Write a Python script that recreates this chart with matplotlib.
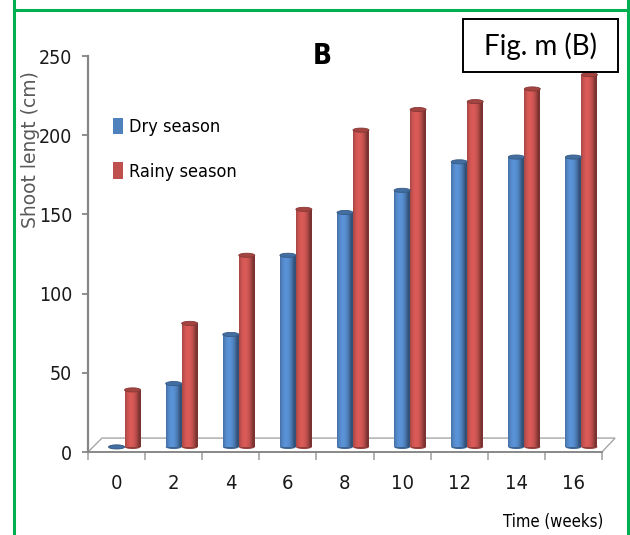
import numpy as np
import matplotlib.pyplot as plt
from matplotlib import font_manager
from matplotlib.patches import Rectangle, Ellipse, Polygon
from matplotlib.lines import Line2D
from matplotlib.ticker import FixedLocator

# data
weeks = ["0", "2", "4", "6", "8", "10", "12", "14", "16"]
dry_season = [0, 40, 71, 121, 148, 162, 180, 183, 183]
rainy_season = [36, 78, 121, 150, 200, 213, 218, 226, 235]
series_names = ["Dry season", "Rainy season"]
y_ticks = [0, 50, 100, 150, 200, 250]

W, H = 630, 535
fig = plt.figure(figsize=(W / 100, H / 100), dpi=100)
fig.patch.set_facecolor("white")


# look for a condensed face (the chart text is Calibri squeezed sideways)
def pick_narrow(bold=False):
    best = None
    for f in font_manager.fontManager.ttflist:
        if f.stretch in ("condensed", "semi-condensed", "extra-condensed") \
                and f.style == "normal":
            isbold = f.weight in ("bold", 700, "heavy", 800, "semibold", 600)
            if bold != bool(isbold):
                continue
            score = 0 if "Liberation" in f.name else 1 if "DejaVu" in f.name else 2
            if best is None or score < best[0]:
                best = (score, f.fname)
    return best[1] if best else None


fn_reg = pick_narrow(False)
fn_bold = pick_narrow(True)


def nprop(size, bold=False):
    fname = fn_bold if bold else fn_reg
    if fname:
        return font_manager.FontProperties(fname=fname, size=size)
    return font_manager.FontProperties(family="Roboto", size=size,
                                       weight="bold" if bold else "normal")


ax = fig.add_axes([88 / W, (H - 452) / H, (602 - 88) / W, (452 - 56) / H])
ax.set_facecolor("none")

n = len(weeks)
xpos = np.arange(n)
bw = 0.28
dx, dy = 0.14, 3.2  # 3d depth shift of the bars
cap_h = 2.6

blue = np.array([79, 129, 189]) / 255
red = np.array([192, 80, 77]) / 255

t = np.linspace(0, 1, 64)
shade = 0.64 + 0.5 * np.clip(np.cos((t - 0.38) * np.pi), 0, 1) ** 0.8


def cylinder(xc, val, col):
    x0 = xc - bw / 2
    rect = Rectangle((x0, dy), bw, val, facecolor=col, edgecolor="none", zorder=3)
    ax.add_patch(rect)
    grad = np.clip(col[None, None, :] * shade[None, :, None], 0, 1)
    im = ax.imshow(grad, extent=(x0, x0 + bw, dy, dy + val), aspect="auto",
                   zorder=3.1, interpolation="bilinear")
    im.set_clip_path(rect)
    ax.add_patch(Ellipse((xc, dy), bw, cap_h, facecolor=col * 0.75,
                         edgecolor="none", zorder=2.9))
    ax.add_patch(Ellipse((xc, dy + val), bw, cap_h, facecolor=col * 0.85,
                         edgecolor=col * 0.7, lw=0.6, zorder=3.3))
    return rect


handles = []
for i in range(n):
    r1 = cylinder(xpos[i] + dx - bw / 2, dry_season[i], blue)
    r2 = cylinder(xpos[i] + dx + bw / 2, rainy_season[i], red)
    if i == 0:
        handles = [r1, r2]

# floor outline
floor = Polygon([(-0.5, 0), (8.5, 0), (8.73, 8.8), (-0.255, 8.8)], closed=True,
                facecolor="white", edgecolor="#a6a6a6", lw=1.0, zorder=1,
                clip_on=False)
ax.add_patch(floor)

ax.set_xlim(-0.5, n - 0.5)
ax.set_ylim(0, 250)

for s in ["top", "right"]:
    ax.spines[s].set_visible(False)
ax.spines["left"].set_color("#868686")
ax.spines["left"].set_linewidth(1.6)
ax.spines["bottom"].set_color("#868686")
ax.spines["bottom"].set_linewidth(1.3)
ax.spines["bottom"].set_zorder(2)

ax.set_yticks(y_ticks)
ax.set_yticklabels([str(v) for v in y_ticks], fontproperties=nprop(14),
                   color="#1a1a1a")
ax.tick_params(axis="y", length=4.5, width=1.3, color="#868686", pad=7)

ax.xaxis.set_major_locator(FixedLocator(np.arange(n + 1) - 0.5))
ax.xaxis.set_minor_locator(FixedLocator(xpos))
ax.tick_params(axis="x", which="major", length=6, width=1.2, color="#a6a6a6",
               labelbottom=False)
ax.tick_params(axis="x", which="minor", length=0, pad=16)
ax.set_xticks(xpos, weeks, minor=True, fontproperties=nprop(14.5),
              color="#1a1a1a")

ax.set_ylabel("Shoot lengt (cm)", fontsize=13.5, color="#595959",
              family="DejaVu Sans")
ax.yaxis.set_label_coords(-(88 - 40) / (602 - 88), (452 - 150) / (452 - 56))

leg = ax.legend(handles, series_names, frameon=False, loc="upper left",
                bbox_to_anchor=(113 / W, 1 - 118 / H),
                bbox_transform=fig.transFigure, prop=nprop(13),
                handlelength=0.55, handleheight=1.0, handletextpad=0.35,
                labelspacing=1.45, borderpad=0, borderaxespad=0)

fig.text(322 / W, 1 - 56 / H, "B", ha="center", va="center",
         fontproperties=nprop(20, bold=True))

# label box
fig.add_artist(Rectangle((463 / W, 1 - 72 / H), (618 - 463) / W, (72 - 19) / H,
                         transform=fig.transFigure, facecolor="white",
                         edgecolor="black", lw=1.4))
fig.text(540 / W, 1 - 46 / H, "Fig. m (B)", ha="center", va="center",
         fontsize=20, family=["Lato", "DejaVu Sans"])

fig.text(553 / W, 1 - 522 / H, "Time (weeks)", ha="center", va="center",
         fontproperties=nprop(12))

# green border of the cell
green = "#00b050"
fig.add_artist(Line2D([14 / W, 14 / W], [0, 1], color=green, lw=2.2,
                      transform=fig.transFigure))
fig.add_artist(Line2D([628 / W, 628 / W], [0, 1], color=green, lw=2.2,
                      transform=fig.transFigure))
fig.add_artist(Line2D([14 / W, 628 / W], [1 - 10 / H, 1 - 10 / H], color=green,
                      lw=2.2, transform=fig.transFigure))

fig.savefig("out.png", dpi=100)
